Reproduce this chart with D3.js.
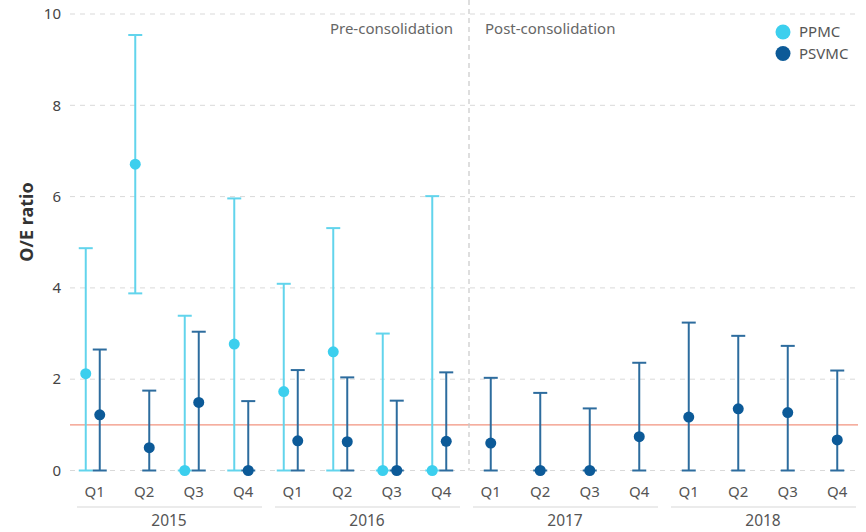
<!DOCTYPE html>
<html>
<head>
<meta charset="utf-8">
<script src="https://cdn.jsdelivr.net/npm/d3@7"></script>
<style>
  body { margin: 0; background: #fff; }
  text { font-family: "Noto Sans", "Open Sans", sans-serif; }
</style>
</head>
<body>
<div id="chart"></div>
<script>
// quarters and years shown on the x axis
var years = ["2015", "2016", "2017", "2018"];
var quarters = ["Q1", "Q2", "Q3", "Q4"];
var yTicks = [0, 2, 4, 6, 8, 10];

// PPMC (pre-consolidation only): observed/expected ratio with 95% CI
var ppmcValue = [2.12, 6.71, 0, 2.77, 1.73, 2.60, 0, 0];
var ppmcLow   = [0, 3.88, 0, 0, 0, 0, 0, 0];
var ppmcHigh  = [4.87, 9.54, 3.39, 5.96, 4.09, 5.31, 3.0, 6.01];

// PSVMC, all 16 quarters
var psvmcValue = [1.22, 0.50, 1.49, 0, 0.65, 0.63, 0, 0.64,
                  0.60, 0, 0, 0.74, 1.17, 1.35, 1.27, 0.67];
var psvmcLow   = [0, 0, 0, 0, 0, 0, 0, 0, 0, 0, 0, 0, 0, 0, 0, 0];
var psvmcHigh  = [2.65, 1.75, 3.04, 1.52, 2.20, 2.04, 1.53, 2.15,
                  2.03, 1.70, 1.36, 2.36, 3.24, 2.95, 2.73, 2.19];

var refLine = 1;

var width = 866, height = 532;
var margin = { top: 14, right: 4, bottom: 61.5, left: 70 };

var svg = d3.select("#chart").append("svg")
  .attr("width", width)
  .attr("height", height);

var keys = [];
years.forEach(function(yr) {
  quarters.forEach(function(q) { keys.push(yr + "-" + q); });
});

var x = d3.scaleBand()
  .domain(keys)
  .range([margin.left, width - margin.right]);

var y = d3.scaleLinear()
  .domain([0, 10])
  .range([height - margin.bottom, margin.top]);

var ppmcColor = "#3ccfee", ppmcBar = "#62d4ec";
var psvmcColor = "#0c5a98", psvmcBar = "#2d6c9e";

// gridlines
svg.append("g")
  .selectAll("line")
  .data(yTicks)
  .enter().append("line")
  .attr("x1", margin.left)
  .attr("x2", width - 8)
  .attr("y1", function(d) { return y(d); })
  .attr("y2", function(d) { return y(d); })
  .style("stroke", "#d9d9d9")
  .style("stroke-width", 1)
  .style("stroke-dasharray", "5,5");

// y axis labels
svg.append("g")
  .selectAll("text")
  .data(yTicks)
  .enter().append("text")
  .attr("x", 61)
  .attr("y", function(d) { return y(d); })
  .attr("dy", "0.35em")
  .attr("text-anchor", "end")
  .style("font-size", "15px")
  .style("fill", "#444")
  .text(function(d) { return d; });

svg.append("text")
  .attr("transform", "translate(33,222) rotate(-90)")
  .attr("text-anchor", "middle")
  .style("font-size", "18px")
  .style("font-weight", "bold")
  .style("fill", "#333")
  .text("O/E ratio");

// reference line at ratio = 1
svg.append("line")
  .attr("x1", margin.left)
  .attr("x2", width - 8)
  .attr("y1", y(refLine))
  .attr("y2", y(refLine))
  .style("stroke", "#f2937f")
  .style("stroke-width", 1.2);

// pre/post consolidation divider
var divX = x("2017-Q1") + 3;
svg.append("line")
  .attr("x1", divX).attr("x2", divX)
  .attr("y1", 0).attr("y2", y(0))
  .style("stroke", "#c8c8c8")
  .style("stroke-width", 1.2)
  .style("stroke-dasharray", "5,4");

svg.append("text")
  .attr("x", divX - 16)
  .attr("y", 34)
  .attr("text-anchor", "end")
  .style("font-size", "15px")
  .style("fill", "#666")
  .text("Pre-consolidation");

svg.append("text")
  .attr("x", divX + 16)
  .attr("y", 34)
  .style("font-size", "15px")
  .style("fill", "#666")
  .text("Post-consolidation");

// position of each series inside a quarter band
function ppmcX(i) {
  return x(keys[i]) + x.bandwidth() / 2 - 9;
}
function psvmcX(i) {
  var c = x(keys[i]) + x.bandwidth() / 2;
  return i < ppmcValue.length ? c + 5 : c;
}

function drawSeries(vals, lows, highs, px, barColor, dotColor) {
  var g = svg.append("g");
  var items = vals.map(function(v, i) {
    return { i: i, v: v, lo: lows[i], hi: highs[i] };
  });
  var bars = g.selectAll(".bar")
    .data(items)
    .enter().append("g");

  bars.append("line")
    .attr("x1", function(d) { return px(d.i); })
    .attr("x2", function(d) { return px(d.i); })
    .attr("y1", function(d) { return y(d.lo); })
    .attr("y2", function(d) { return y(d.hi); })
    .style("stroke", barColor)
    .style("stroke-width", 2);

  [ "lo", "hi" ].forEach(function(k) {
    bars.append("line")
      .attr("x1", function(d) { return px(d.i) - 7; })
      .attr("x2", function(d) { return px(d.i) + 7; })
      .attr("y1", function(d) { return y(d[k]); })
      .attr("y2", function(d) { return y(d[k]); })
      .style("stroke", barColor)
      .style("stroke-width", 2);
  });

  bars.append("circle")
    .attr("cx", function(d) { return px(d.i); })
    .attr("cy", function(d) { return y(d.v); })
    .attr("r", 5.5)
    .style("fill", dotColor);
}

drawSeries(ppmcValue, ppmcLow, ppmcHigh, ppmcX, ppmcBar, ppmcColor);
drawSeries(psvmcValue, psvmcLow, psvmcHigh, psvmcX, psvmcBar, psvmcColor);

// quarter labels
svg.append("g")
  .selectAll("text")
  .data(keys)
  .enter().append("text")
  .attr("x", function(d) { return x(d) + x.bandwidth() / 2; })
  .attr("y", 497)
  .attr("text-anchor", "middle")
  .style("font-size", "15px")
  .style("fill", "#555")
  .text(function(d) { return d.split("-")[1]; });

// year groups with a light underline
var yearW = x.bandwidth() * 4;
years.forEach(function(yr, j) {
  var x0 = x(yr + "-Q1");
  svg.append("line")
    .attr("x1", x0 + 7)
    .attr("x2", x0 + yearW - 6)
    .attr("y1", 507).attr("y2", 507)
    .style("stroke", "#ebebeb")
    .style("stroke-width", 2);
  svg.append("text")
    .attr("x", x0 + yearW / 2)
    .attr("y", 526)
    .attr("text-anchor", "middle")
    .style("font-size", "15.5px")
    .style("fill", "#555")
    .text(yr);
});

// legend
var legend = [
  { name: "PPMC", color: ppmcColor },
  { name: "PSVMC", color: psvmcColor }
];
var lg = svg.append("g")
  .selectAll("g")
  .data(legend)
  .enter().append("g")
  .attr("transform", function(d, i) { return "translate(783," + (32 + i * 21.5) + ")"; });
lg.append("circle")
  .attr("r", 7.5)
  .style("fill", function(d) { return d.color; });
lg.append("text")
  .attr("x", 16)
  .attr("dy", "0.35em")
  .style("font-size", "15px")
  .style("fill", "#555")
  .text(function(d) { return d.name; });
</script>
</body>
</html>
